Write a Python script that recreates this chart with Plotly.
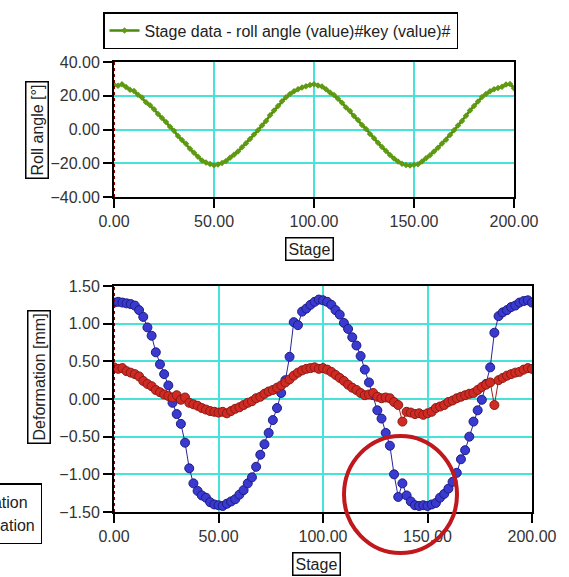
import plotly.graph_objects as go

# stage positions (every 2 stages)
stages = list(range(0, 201, 2))

roll_angle = [
    26.5, 26.0, 26.8, 25.2, 23.5, 22.8, 20.6, 18.9, 16.1, 14.3,
    12.0, 9.2, 6.8, 4.5, 1.6, -0.8, -3.9, -6.2, -8.5, -11.4,
    -13.8, -16.2, -18.3, -19.6, -20.5, -21.2, -20.8, -19.9, -18.6, -16.8,
    -14.9, -13.1, -10.5, -8.2, -5.7, -3.0, -0.4, 2.3, 5.1, 8.4,
    11.2, 14.0, 16.8, 19.1, 21.0, 22.6, 23.8, 24.9, 25.6, 26.3,
    26.8, 26.1, 25.5, 23.9, 22.0, 20.4, 18.2, 15.8, 13.1, 10.9,
    8.0, 5.6, 2.7, 0.3, -2.6, -5.2, -7.9, -10.4, -12.8, -15.1,
    -17.2, -19.0, -20.3, -21.0, -21.3, -20.9, -20.6, -19.0, -17.1, -15.2,
    -13.0, -10.8, -8.3, -6.1, -3.2, -0.5, 2.4, 5.0, 8.1, 11.3,
    14.0, 16.6, 19.2, 21.1, 22.7, 23.9, 24.6, 25.4, 26.6, 27.0,
    24.5,
]

deform_a = [
    1.28, 1.29, 1.28, 1.27, 1.26, 1.24, 1.18, 1.09, 0.95, 0.84,
    0.62, 0.46, 0.33, 0.18, -0.05, -0.20, -0.33, -0.58, -0.92, -1.12,
    -1.22, -1.28, -1.31, -1.37, -1.40, -1.41, -1.42, -1.39, -1.36, -1.33,
    -1.27, -1.21, -1.12, -1.04, -0.90, -0.74, -0.60, -0.45, -0.28, -0.12,
    0.08, 0.25, 0.56, 1.02, 0.98, 1.16, 1.20, 1.25, 1.29, 1.32,
    1.31, 1.29, 1.25, 1.18, 1.12, 1.01, 0.93, 0.82, 0.71, 0.57,
    0.39, 0.22, 0.05, -0.15, -0.26, -0.45, -0.62, -1.00, -1.30, -1.12,
    -1.28, -1.36, -1.41, -1.42, -1.41, -1.42, -1.40, -1.38, -1.31, -1.26,
    -1.19, -1.10, -0.98, -0.80, -0.68, -0.50, -0.30, -0.15, -0.01, 0.20,
    0.42, 0.88, 1.10, 1.15, 1.18, 1.22, 1.24, 1.28, 1.30, 1.31,
    1.28,
]

deform_b = [
    0.42, 0.40, 0.41, 0.37, 0.35, 0.33, 0.30, 0.24, 0.20, 0.17,
    0.12, 0.09, 0.06, 0.04, 0.02, 0.05, -0.01, 0.02, -0.05, -0.07,
    -0.09, -0.12, -0.14, -0.16, -0.17, -0.18, -0.17, -0.19, -0.16, -0.13,
    -0.11, -0.08, -0.05, -0.03, 0.01, 0.03, 0.07, 0.10, 0.12, 0.15,
    0.18, 0.22, 0.26, 0.31, 0.35, 0.38, 0.40, 0.41, 0.42, 0.40,
    0.41, 0.39, 0.36, 0.32, 0.28, 0.24, 0.19, 0.15, 0.12, 0.08,
    0.05, 0.06, 0.08, 0.03, 0.01, 0.02, 0.01, -0.04, -0.08, -0.30,
    -0.17, -0.18, -0.20, -0.19, -0.21, -0.19, -0.17, -0.12, -0.10, -0.08,
    -0.04, -0.02, 0.01, 0.03, 0.05, 0.07, 0.08, 0.12, 0.16, 0.19,
    0.22, -0.08, 0.25, 0.28, 0.31, 0.33, 0.35, 0.36, 0.39, 0.41,
    0.40,
]

W, H = 569, 577
FONT = "Liberation Sans"
GRID = "#48e2d6"


def px(x):
    return x / W


def py(y):
    return 1 - y / H


fig = go.Figure()

fig.add_trace(
    go.Scatter(
        x=stages, y=roll_angle, mode="lines+markers",
        name="Stage data - roll angle (value)#key (value)#",
        line=dict(color="#4a8a0a", width=2.5),
        marker=dict(symbol="diamond", size=5, color="#5f9a10"),
        xaxis="x", yaxis="y", legend="legend",
    )
)
fig.add_trace(
    go.Scatter(
        x=stages, y=deform_a, mode="lines+markers",
        name="Stage data - lateral deformation",
        line=dict(color="#26269a", width=1),
        marker=dict(size=9, color="#3a3ad0", line=dict(color="#1c1c85", width=1)),
        xaxis="x2", yaxis="y2", legend="legend2",
    )
)
fig.add_trace(
    go.Scatter(
        x=stages, y=deform_b, mode="lines+markers",
        name="Stage data - vertical deformation",
        line=dict(color="#a01e1e", width=1),
        marker=dict(size=9, color="#d02a24", line=dict(color="#8c1a12", width=1)),
        xaxis="x2", yaxis="y2", legend="legend2",
    )
)

axis_common = dict(
    showline=True, linecolor="black", linewidth=2, mirror=True,
    ticks="outside", ticklen=9, tickwidth=2, tickcolor="black",
    showgrid=True, gridcolor=GRID, gridwidth=2, zeroline=False,
    tickformat=".2f", tickfont=dict(family=FONT, size=16, color="#333"),
)

fig.update_layout(
    width=W, height=H,
    showlegend=True,
    paper_bgcolor="white", plot_bgcolor="white",
    margin=dict(l=0, r=0, t=0, b=0, autoexpand=False),
    font=dict(family=FONT, size=16, color="#222"),
    xaxis=dict(domain=[px(114), px(514)], range=[0, 200], tickvals=[0, 50, 100, 150, 200],
               anchor="y", **axis_common),
    yaxis=dict(domain=[py(197), py(62)], range=[-40, 40], tickvals=[-40, -20, 0, 20, 40],
               anchor="x", **axis_common),
    xaxis2=dict(domain=[px(114), px(532)], range=[0, 200], tickvals=[0, 50, 100, 150, 200],
                anchor="y2", **axis_common),
    yaxis2=dict(domain=[py(512), py(286)], range=[-1.5, 1.5],
                tickvals=[-1.5, -1.0, -0.5, 0, 0.5, 1.0, 1.5], anchor="x2", **axis_common),
    legend=dict(
        x=px(103), y=py(12), xanchor="left", yanchor="top",
        bordercolor="black", borderwidth=1.5, bgcolor="white",
        font=dict(family=FONT, size=16, color="#222"),
    ),
    legend2=dict(
        x=px(42), y=py(483), xanchor="right", yanchor="top",
        bordercolor="black", borderwidth=1.5, bgcolor="white",
        font=dict(family=FONT, size=16, color="#222"),
    ),
)

# red dotted line on the y axis at stage 0
for xr, yr in [("x", "y domain"), ("x2", "y2 domain")]:
    fig.add_shape(type="line", xref=xr, yref=yr, x0=0, x1=0, y0=0, y1=1,
                  line=dict(color="#8b0000", width=2, dash="dot"))

# highlight circle
fig.add_shape(type="circle", xref="paper", yref="paper",
              x0=px(344), x1=px(457), y0=py(553), y1=py(436),
              line=dict(color="#c0181c", width=4))

# boxed axis titles
box = dict(bordercolor="black", borderwidth=1.5, borderpad=2, bgcolor="white",
           showarrow=False, xref="paper", yref="paper",
           xanchor="center", yanchor="middle",
           font=dict(family=FONT, size=16, color="#222"))
fig.add_annotation(text="Roll angle [°]", x=px(37), y=py(130), textangle=-90, **box)
fig.add_annotation(text="Stage", x=px(309), y=py(249), **box)
fig.add_annotation(text="Deformation [mm]", x=px(39), y=py(377), textangle=-90, **box)
fig.add_annotation(text="Stage", x=px(316), y=py(564), **box)

fig.write_html("out.html", config={"displayModeBar": False},
               post_script="document.body.style.margin='0';")
